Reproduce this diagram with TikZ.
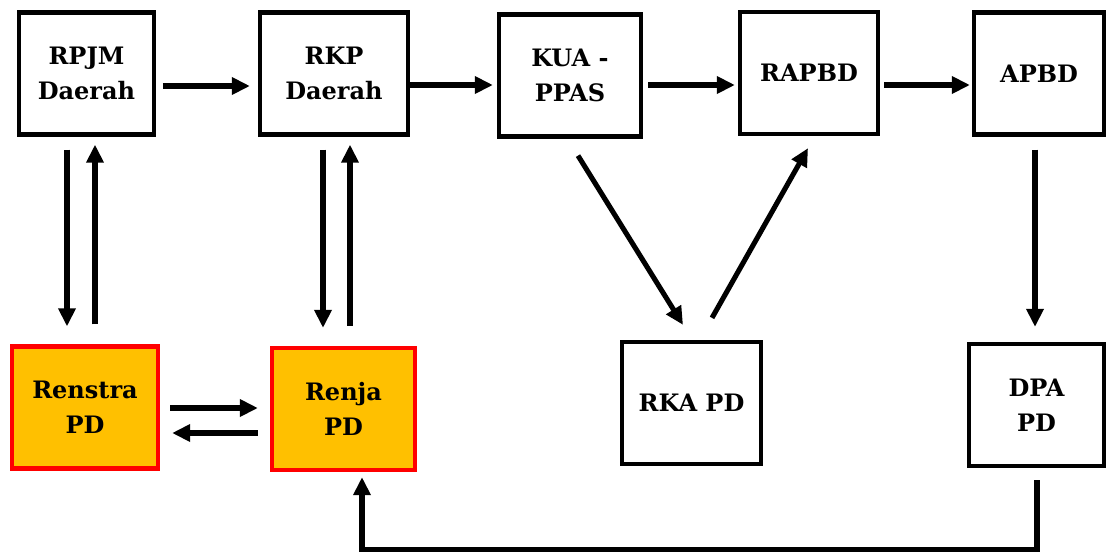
\documentclass[tikz,border=0pt]{standalone}
\usepackage{tikz}
\usepackage{xcolor}
\usepackage{fontspec}
\setmainfont{DejaVu Serif}
\usetikzlibrary{arrows.meta, positioning, calc}
\definecolor{plangold}{RGB}{255, 192, 0}
\definecolor{planred}{RGB}{255, 0, 0}

\begin{document}
\begin{tikzpicture}[
    x=0.75pt, y=-0.75pt,
    box/.style={rectangle, draw=black, line width=3.2pt, minimum width=103pt, minimum height=91.5pt, inner sep=0pt, align=center, font=\fontsize{18}{26}\selectfont\bfseries},
    planbox/.style={box, draw=planred, fill=plangold},
    arrow/.style={line width=3.8pt, -{Triangle[length=13.5pt, width=12.5pt]}}
]
\useasboundingbox (0,0) rectangle (1109,554);

% Top row
\node (rpjm) [box, minimum width=101pt] at (86.5,73.5) {RPJM\\Daerah};
\node (rkp) [box, minimum width=111pt] at (334,73.5) {RKP\\Daerah};
\node (kua) [box, minimum width=106.5pt] at (570,75.5) {KUA -\\PPAS};
\node (rapbd) [box, minimum width=103.5pt] at (809,73) {RAPBD};
\node (apbd) [box, minimum width=97.5pt] at (1039,73.5) {APBD};

% Bottom row
\node (renstra) [planbox, minimum width=109.5pt] at (85,407.5) {Renstra\\PD};
\node (renja) [planbox, minimum width=107.25pt] at (343.5,409) {Renja\\PD};
\node (rka) [box, minimum width=104.25pt] at (691.5,403) {RKA PD};
\node (dpa) [box, minimum width=101.25pt] at (1036.5,405) {DPA\\PD};

% Top row arrows
\draw [arrow] ($(rpjm.east)+(7,12.5)$) -- ($(rkp.west)+(-8,12.5)$);
\draw [arrow] ($(rkp.east)+(0,11.5)$) -- ($(kua.west)+(-4,9.5)$);
\draw [arrow] ($(kua.east)+(5,9.5)$) -- ($(rapbd.west)+(-3,12)$);
\draw [arrow] ($(rapbd.east)+(4,12)$) -- ($(apbd.west)+(-2,11.5)$);

% Up and down
\draw [arrow] ($(rpjm.south)+(-19.5,13)$) -- ($(renstra.north)+(-18,-18)$);
\draw [arrow] ($(renstra.north)+(10,-20)$) -- ($(rpjm.south)+(8.5,8)$);
\draw [arrow] ($(rkp.south)+(-11,13)$) -- ($(renja.north)+(-20.5,-18)$);
\draw [arrow] ($(renja.north)+(6.5,-20)$) -- ($(rkp.south)+(16,8)$);
\draw [arrow] ($(apbd.south)+(-4,13)$) -- ($(dpa.north)+(-1.5,-15)$);

% Renstra and Renja
\draw [arrow] ($(renstra.east)+(10,0.5)$) -- ($(renja.west)+(-12,-1)$);
\draw [arrow] ($(renja.west)+(-12,24)$) -- ($(renstra.east)+(12,25.5)$);

% RKA PD
\draw [arrow] ($(kua.south)+(8,17)$) -- ($(rka.north)+(-8.5,-15)$);
\draw [arrow] ($(rka.north)+(20.5,-22)$) -- ($(rapbd.south)+(-1,12)$);

% DPA back to Renja
\draw [arrow] ($(dpa.south)+(0.5,12)$) -- ($(dpa.south)+(0.5,81)$) -| ($(renja.south)+(18.5,5)$);

\end{tikzpicture}
\end{document}
